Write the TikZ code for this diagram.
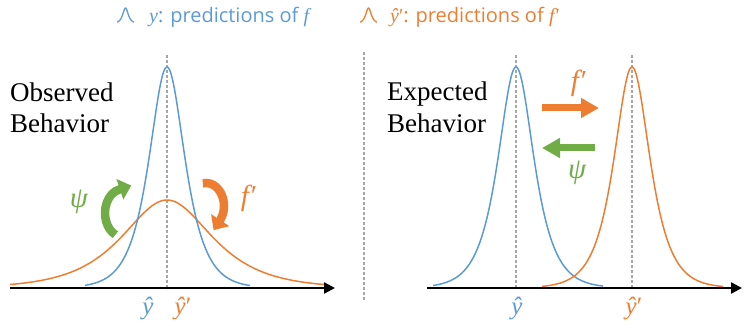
\documentclass[tikz,border=0pt]{standalone}
\usepackage{fontspec}
\setmainfont{Liberation Serif}
\newfontfamily\legfont{Open Sans}
\usetikzlibrary{arrows.meta}
\definecolor{cblue}{HTML}{5B9BD5}
\definecolor{corange}{HTML}{ED7D31}
\definecolor{cgreen}{HTML}{70AD47}
\definecolor{cgray}{HTML}{A6A6A6}
\newcommand{\yhat}{{\rmfamily\itshape ŷ}}
\tikzset{
  curve/.style={line width=1.5pt, line join=round},
  guide/.style={cgray, line width=1.2pt, dash pattern=on 3pt off 2pt},
  axisline/.style={black, line width=2.4pt, -{Triangle[length=11pt,width=11pt]}},
  bigtext/.style={inner sep=0pt, font=\fontsize{27}{31}\selectfont},
  symlbl/.style={inner sep=0pt, font=\fontsize{29}{33}\selectfont\itshape},
  axlbl/.style={inner sep=0pt, font=\fontsize{25}{29}\selectfont},
  legtext/.style={inner sep=0pt, font=\legfont\fontsize{20}{23}\selectfont},
  fatarrow/.style={line width=7pt, -{Triangle[length=18pt,width=19pt]}},
  bentarrow/.style={line width=8.5pt, -{Triangle[length=12pt,width=21pt]}},
  glyph/.style={line width=1.3pt, line join=round}
}
\begin{document}
\begin{tikzpicture}[x=1pt,y=-1pt]
\useasboundingbox (0,0) rectangle (747,336);

% legend
\draw[cblue, glyph] plot[domain=117:134, samples=50] (\x, {23-15/cosh((\x-125.5)/2.4)});
\node[legtext, text=cblue, anchor=base west] (leg1) at (149,23) {{\rmfamily\itshape y}: predictions of {\rmfamily\itshape f}};
\draw[corange, glyph] plot[domain=360:377, samples=50] (\x, {23-15/cosh((\x-368.5)/2.4)});
\node[legtext, text=corange, anchor=base west] (leg2) at (390,23) {\yhat{\rmfamily′}: predictions of {\rmfamily\itshape f}\kern1pt{\rmfamily′}};

% separator
\coordinate (s1) at (364,52);
\coordinate (s2) at (364,300);
\draw[guide] (s1) -- (s2);

% ---------- left panel ----------
\coordinate (d1) at (167,55);
\coordinate (d2) at (167,290);
\draw[guide] (d1) -- (d2);
\draw[corange, curve] plot[domain=10:327, samples=160] (\x, {288-88/cosh((\x-167)/40)});
\draw[cblue, curve] plot[domain=85:250, samples=160] (\x, {288-221/cosh((\x-167)/16)});
\coordinate (a1s) at (10,288);
\coordinate (a1e) at (335,288);
\draw[axisline] (a1s) -- (a1e);

\node[bigtext, anchor=base west] (obs1) at (10,102) {Observed};
\node[bigtext, anchor=base west] (obs2) at (10,133) {Behavior};

\node[axlbl, text=cblue, anchor=base] (yh1) at (148,315) {\yhat};
\node[axlbl, text=corange, anchor=base] (yp1) at (183,315) {\yhat′};

% curved arrows
\coordinate (gc) at ({123+18*cos(115)},{213+24*sin(115)});
\draw[cgreen, bentarrow] (gc) arc[start angle=115, end angle=258, x radius=18, y radius=24] -- ++(12,-4);
\node[symlbl, text=cgreen] (psi1) at (79,202) {ψ};

\coordinate (oc) at ({206+18*cos(-100)},{206+23*sin(-100)});
\draw[corange, bentarrow] (oc) arc[start angle=-100, end angle=38, x radius=18, y radius=23] -- ++(-6.6,10);
\node[symlbl, text=corange] (fp1) at (249,198) {f\kern2pt{\upshape′}};

% ---------- right panel ----------
\coordinate (d3) at (516,55);
\coordinate (d4) at (516,288);
\coordinate (d5) at (632,55);
\coordinate (d6) at (632,288);
\draw[guide] (d3) -- (d4);
\draw[guide] (d5) -- (d6);
\draw[cblue, curve] plot[domain=433:603, samples=160] (\x, {288-221/cosh((\x-516)/16)});
\draw[corange, curve] plot[domain=542:723, samples=160] (\x, {288-221/cosh((\x-632)/16)});
\coordinate (a2s) at (427,288);
\coordinate (a2e) at (742,288);
\draw[axisline] (a2s) -- (a2e);

\node[bigtext, anchor=base west] (exp1) at (387,101) {Expected};
\node[bigtext, anchor=base west] (exp2) at (387,133) {Behavior};

\node[axlbl, text=cblue, anchor=base] (yh2) at (517,315) {\yhat};
\node[axlbl, text=corange, anchor=base] (yp2) at (634,315) {\yhat′};

\coordinate (fa1) at (542,108);
\coordinate (fa2) at (599,108);
\draw[corange, fatarrow] (fa1) -- (fa2);
\node[symlbl, text=corange] (fp2) at (579,83) {f\kern2pt{\upshape′}};

\coordinate (ga1) at (595,148);
\coordinate (ga2) at (542,148);
\draw[cgreen, fatarrow] (ga1) -- (ga2);
\node[symlbl, text=cgreen] (psi2) at (577,173) {ψ};
\end{tikzpicture}
\end{document}
